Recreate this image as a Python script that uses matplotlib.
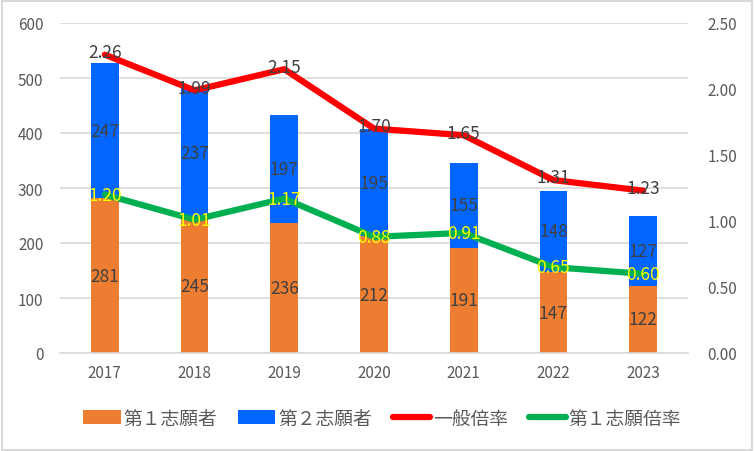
import numpy as np
import matplotlib.pyplot as plt
from matplotlib.patches import Rectangle

plt.rcParams['font.family'] = ['Noto Sans CJK JP', 'DejaVu Sans']

years = ['2017', '2018', '2019', '2020', '2021', '2022', '2023']
first_choice = [281, 245, 236, 212, 191, 147, 122]
second_choice = [247, 237, 197, 195, 155, 148, 127]
general_ratio = [2.26, 1.99, 2.15, 1.70, 1.65, 1.31, 1.23]
first_ratio = [1.20, 1.01, 1.17, 0.88, 0.91, 0.65, 0.60]

c_orange = '#ed7d31'
c_blue = '#0066ff'
c_red = '#ff0000'
c_green = '#00b050'
c_text = '#404040'
c_tick = '#595959'

fig = plt.figure(figsize=(7.54, 4.52), dpi=100)
ax = fig.add_axes([60 / 754, 1 - 354 / 452, 628 / 754, 330 / 452])
ax2 = ax.twinx()

x = np.arange(len(years))
w = 0.31
b1 = ax.bar(x, first_choice, w, color=c_orange, zorder=2)
b2 = ax.bar(x, second_choice, w, bottom=first_choice, color=c_blue, zorder=2)

fs_lab = 12.5
for i in range(len(years)):
    ax.text(x[i], first_choice[i] / 2, str(first_choice[i]), ha='center', va='center',
            fontsize=fs_lab, color=c_text, zorder=3)
    ax.text(x[i], first_choice[i] + second_choice[i] / 2, str(second_choice[i]),
            ha='center', va='center', fontsize=fs_lab, color=c_text, zorder=3)

ax.set_ylim(0, 600)
ax.set_yticks(range(0, 601, 100))
ax.set_xlim(-0.5, len(years) - 0.5)
ax.set_xticks(x)
ax.set_xticklabels(years)
ax.grid(axis='y', color='#d9d9d9', lw=1.2, zorder=0)
ax.set_axisbelow(True)

l1, = ax2.plot(x, general_ratio, color=c_red, lw=4.5, solid_capstyle='round', zorder=4)
l2, = ax2.plot(x, first_ratio, color=c_green, lw=4.5, solid_capstyle='round', zorder=4)
for i in range(len(years)):
    ax2.text(x[i], general_ratio[i] + 0.02, '%.2f' % general_ratio[i], ha='center', va='center',
             fontsize=fs_lab, color=c_text, zorder=5)
    ax2.text(x[i], first_ratio[i], '%.2f' % first_ratio[i], ha='center', va='center',
             fontsize=fs_lab, color='#ffff00', zorder=5)
ax2.set_ylim(0, 2.5)
ax2.set_yticks(np.arange(0, 2.51, 0.5))
ax2.set_yticklabels(['%.2f' % v for v in np.arange(0, 2.51, 0.5)])

for a in (ax, ax2):
    for s in a.spines.values():
        s.set_visible(False)
    a.tick_params(length=0, labelsize=11, colors=c_tick)
ax.tick_params(axis='y', pad=12)
ax.tick_params(axis='x', pad=8)
ax2.tick_params(axis='y', pad=14)
ax.spines['bottom'].set_visible(True)
ax.spines['bottom'].set_color('#d9d9d9')
ax.spines['bottom'].set_linewidth(1.2)

leg = fig.legend([b1, b2, l1, l2], ['第１志願者', '第２志願者', '一般倍率', '第１志願倍率'],
                 loc='center', bbox_to_anchor=(0.507, 1 - 419 / 452), ncol=4, frameon=False,
                 fontsize=13.5, handlelength=2.0, handletextpad=0.15, columnspacing=1.1)
for t in leg.get_texts():
    t.set_color(c_tick)

fig.patches.append(Rectangle((0.002, 0.003), 0.995, 0.993, transform=fig.transFigure,
                             fill=False, edgecolor='#d9d9d9', lw=1.5))

fig.savefig('out.png', dpi=100)
